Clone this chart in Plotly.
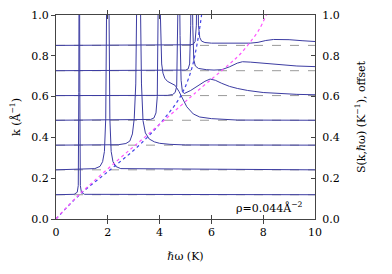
import plotly.graph_objects as go

# baselines (k values, Å^-1) = offsets of the S(k,w) curves
K = [0.119, 0.241, 0.362, 0.484, 0.605, 0.727, 0.851]

# energies (K) and S(k,w) (offset removed)
W1 = [0, 0.7, 0.82, 0.86, 0.88, 0.9, 0.92, 0.94, 0.98, 1.1, 10]
S1 = [0, 0.002, 0.012, 0.045, 0.5, 1.6, 0.5, 0.045, 0.012, 0.002, 0]

W2 = [0, 1.5, 1.7, 1.8, 1.87, 1.92, 1.96, 2.0, 2.04, 2.08, 2.13, 2.2, 2.3, 2.5, 10]
S2 = [0, 0.006, 0.017, 0.04, 0.09, 0.25, 0.9, 1.6, 0.9, 0.25, 0.09, 0.04, 0.017, 0.006, 0]

W3 = [0, 2.4, 2.7, 2.85, 2.95, 3.02, 3.08, 3.13, 3.19, 3.25, 3.3, 3.36, 3.45, 3.6, 3.8, 4.0, 4.4, 5.0, 10]
S3 = [0, 0.002, 0.008, 0.02, 0.055, 0.13, 0.3, 0.8, 1.5, 0.8, 0.3, 0.12, 0.06, 0.03, 0.016, 0.009, 0.004, 0.001, 0]

W4 = [0, 3.4, 3.65, 3.78, 3.86, 3.91, 3.95, 3.98, 4.01, 4.04, 4.08, 4.13, 4.2, 4.3, 4.45,
      4.6, 4.75, 4.9, 5.05, 5.3, 5.55, 6.0, 6.5, 7.0, 10]
S4 = [0, 0.001, 0.004, 0.011, 0.036, 0.116, 0.416, 1.016, 0.616, 0.366, 0.276, 0.231, 0.206,
      0.191, 0.181, 0.171, 0.141, 0.101, 0.066, 0.031, 0.016, 0.008, 0.003, 0.001, 0]

W5 = [0, 4.3, 4.5, 4.6, 4.66, 4.71, 4.75, 4.79, 4.83, 4.88, 4.95, 5.2, 5.5, 5.75, 5.95,
      6.15, 6.4, 6.7, 7.0, 7.4, 8.0, 8.6, 9.3, 10]
S5 = [0, 0.001, 0.005, 0.015, 0.045, 0.295, 0.795, 0.295, 0.075, 0.02, 0.01, 0.025, 0.05,
      0.07, 0.081, 0.075, 0.06, 0.045, 0.035, 0.025, 0.015, 0.01, 0.006, 0.004]

W6 = [0, 4.8, 5.0, 5.1, 5.16, 5.2, 5.24, 5.28, 5.32, 5.38, 5.5, 5.8, 6.1, 6.4, 6.7, 7.0,
      7.2, 7.5, 8.0, 8.6, 9.3, 10]
S6 = [0, 0.001, 0.003, 0.008, 0.033, 0.223, 0.773, 0.223, 0.053, 0.023, 0.011, 0.005, 0.003,
      0.005, 0.019, 0.037, 0.044, 0.042, 0.036, 0.028, 0.023, 0.02]

W7 = [0, 5.0, 5.2, 5.3, 5.37, 5.42, 5.46, 5.5, 5.55, 5.62, 5.75, 6.0, 6.5, 7.0, 7.5, 7.8,
      8.1, 8.4, 8.7, 9.0, 9.5, 10]
S7 = [0, 0.001, 0.003, 0.006, 0.019, 0.099, 0.649, 0.099, 0.039, 0.021, 0.014, 0.011, 0.01,
      0.01, 0.011, 0.015, 0.024, 0.029, 0.03, 0.028, 0.023, 0.019]

W_CURVES = [W1, W2, W3, W4, W5, W6, W7]
S_CURVES = [S1, S2, S3, S4, S5, S6, S7]

# dispersion lines (energy K vs k)
MAG_W = [0, 0.9, 2.4, 3.6, 5.1, 5.54, 6.7, 7.08, 7.46, 7.85, 8.12]
MAG_K = [0, 0.12, 0.29, 0.42, 0.587, 0.636, 0.76, 0.804, 0.861, 0.93, 1.0]

BLU_W = [0, 0.92, 2.08, 3.2, 4.1, 4.8, 5.2, 5.45, 5.62]
BLU_K = [0, 0.12, 0.24, 0.36, 0.48, 0.6, 0.72, 0.86, 1.0]

XTICKS = [0, 2, 4, 6, 8, 10]
YTICKS = [0.0, 0.2, 0.4, 0.6, 0.8, 1.0]

FONT = "DejaVu Serif"
FS = 11
NAVY = "#3c3ca2"

fig = go.Figure()

for k in K:
    fig.add_trace(go.Scatter(x=[0, 10], y=[k, k], mode="lines",
                             line=dict(color="#9a9a9a", width=1, dash="dash"),
                             showlegend=False, hoverinfo="skip"))

for k, w, s in zip(K, W_CURVES, S_CURVES):
    fig.add_trace(go.Scatter(x=w, y=[k + v for v in s], mode="lines",
                             line=dict(color=NAVY, width=1),
                             showlegend=False))

fig.add_trace(go.Scatter(x=BLU_W, y=BLU_K, mode="lines", line_shape="spline",
                         line=dict(color="#4444e6", width=1.2, dash="dot"),
                         showlegend=False))
fig.add_trace(go.Scatter(x=MAG_W, y=MAG_K, mode="lines", line_shape="spline",
                         line=dict(color="#ff55ff", width=1.2, dash="dot"),
                         showlegend=False))

# invisible trace to carry the right axis
fig.add_trace(go.Scatter(x=[0], y=[0], yaxis="y2", mode="markers",
                         marker=dict(opacity=0), showlegend=False, hoverinfo="skip"))

fig.add_annotation(x=9.6, y=0.012, xref="x", yref="y", xanchor="right", yanchor="bottom",
                   text="ρ=0.044Å<sup>−2</sup>", showarrow=False,
                   font=dict(family=FONT, size=FS, color="black"))

axis_common = dict(showgrid=False, zeroline=False, showline=True, linecolor="#444",
                   linewidth=1, tickcolor="#444", ticklen=4, automargin=False,
                   tickfont=dict(family=FONT, size=FS, color="black"))

# the page body adds an 8 px offset, so the figure is laid out 8 px up/left
fig.update_layout(
    width=376, height=258,
    margin=dict(l=48, r=69, t=7, b=47),
    paper_bgcolor="white", plot_bgcolor="white",
    font=dict(family=FONT, size=FS, color="black"),
    xaxis=dict(range=[0, 10], tickvals=XTICKS, ticks="inside", mirror="allticks",
               ticklabelstandoff=3,
               title=dict(text="ℏω (K)", font=dict(family=FONT, size=FS), standoff=14),
               **axis_common),
    yaxis=dict(range=[0, 1], tickvals=YTICKS, tickformat=".1f", ticks="outside", mirror=True,
               title=dict(text="k (Å<sup>−1</sup>)", font=dict(family=FONT, size=FS), standoff=12),
               **axis_common),
    yaxis2=dict(range=[0, 1], tickvals=YTICKS, tickformat=".1f", ticks="inside",
                overlaying="y", side="right", ticklabelstandoff=4,
                title=dict(text="S(k,ℏω) (K<sup>−1</sup>), offset",
                           font=dict(family=FONT, size=FS), standoff=18),
                **axis_common),
)

fig.write_html("out.html")
